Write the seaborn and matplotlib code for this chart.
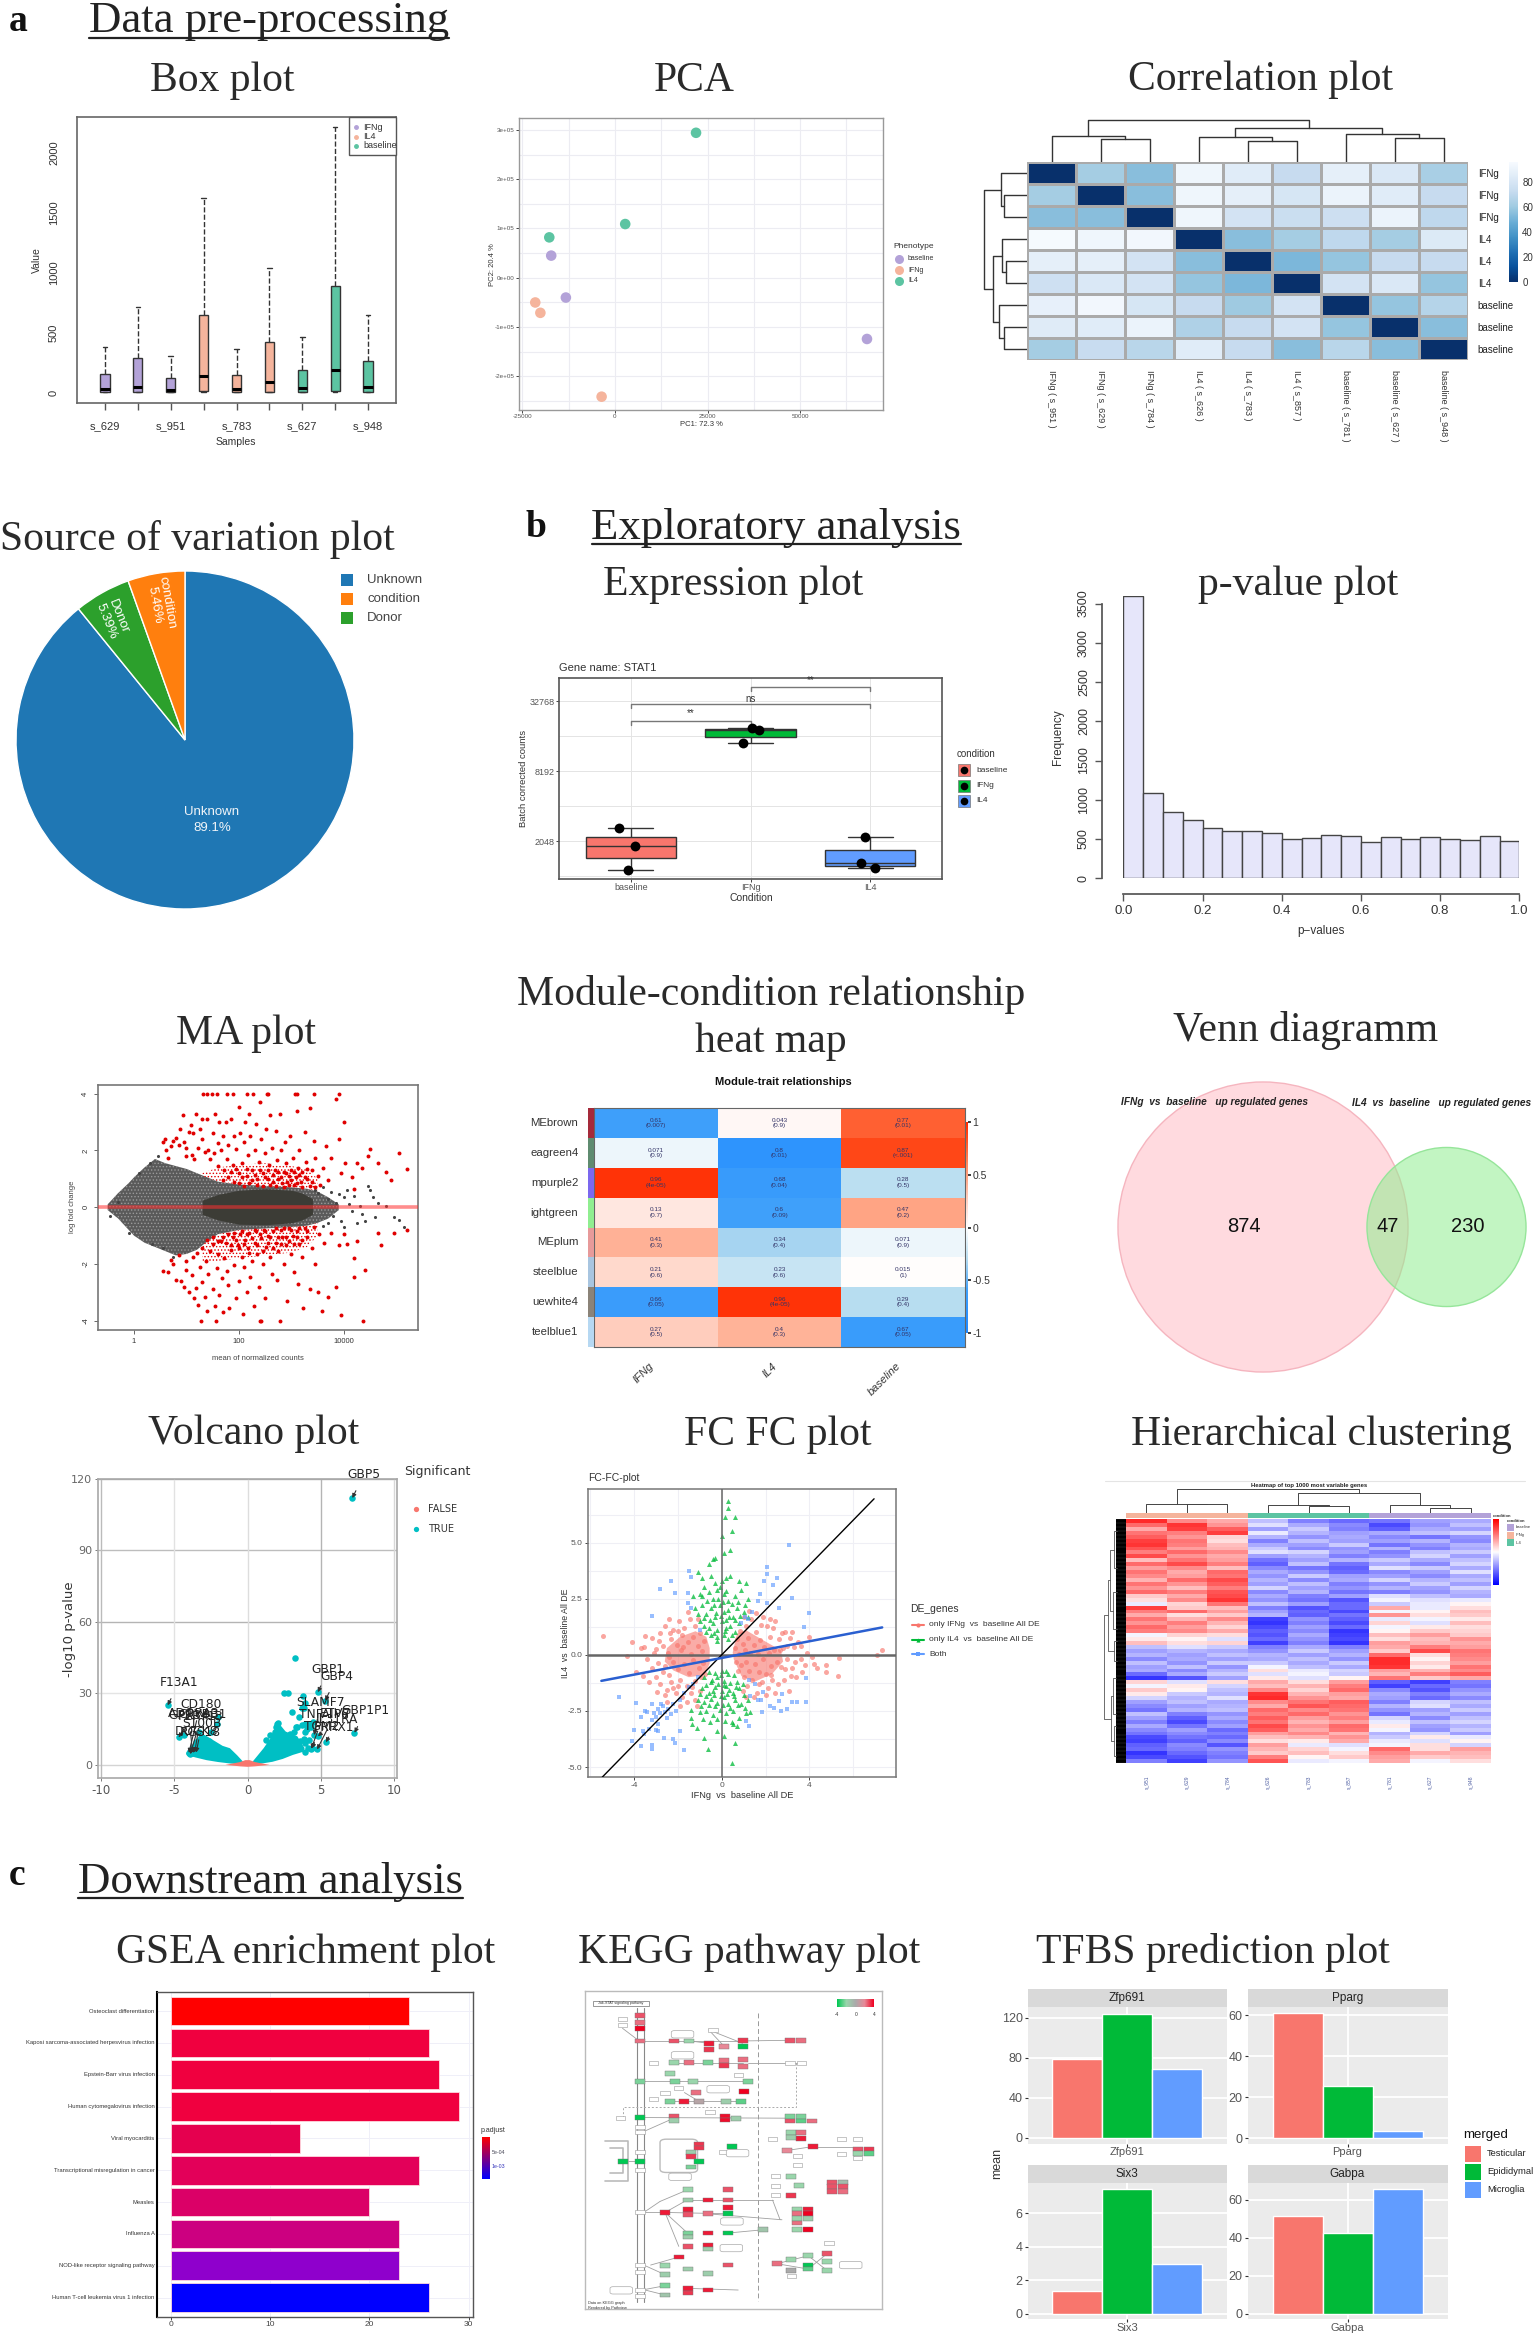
import numpy as np
import pandas as pd
import seaborn as sns
import matplotlib
matplotlib.use('Agg')
import matplotlib.pyplot as plt
from matplotlib import font_manager
from matplotlib.colors import LinearSegmentedColormap, ListedColormap
from matplotlib.patches import Circle, Rectangle, FancyBboxPatch

W, H = 1536, 2334

# ---------- panel titles ----------
section_labels = ['a', 'b', 'c']
section_label_x = [18, 536, 17]
section_label_y = [31, 537, 1885]
underlined = ['Data pre-processing', 'Exploratory analysis', 'Downstream analysis']
underlined_x = [269, 776, 270]
underlined_y = [32, 539, 1893]
underlined_l = [89, 592, 78]
underlined_r = [449, 961, 463]
underlined_line = [38, 544, 1898]
plot_titles = ['Box plot', 'PCA', 'Correlation plot', 'Source of variation plot', 'Expression plot',
               'p-value plot', 'MA plot', 'Module-condition relationship', 'heat map', 'Venn diagramm',
               'Volcano plot', 'FC FC plot', 'Hierarchical clustering', 'GSEA enrichment plot',
               'KEGG pathway plot', 'TFBS prediction plot']
plot_title_x = [222, 694, 1260, 197, 733, 1298, 246, 771, 771, 1306, 254, 778, 1321, 306, 749, 1213]
plot_title_y = [91, 91, 90, 550, 595, 595, 1044, 1005, 1052, 1041, 1444, 1445, 1445, 1963, 1963, 1963]

# ---------- box plot ----------
box_samples = ['s_629', 's_784', 's_951', 's_626', 's_783', 's_857', 's_627', 's_781', 's_948']
box_groups = ['IFNg'] * 3 + ['IL4'] * 3 + ['baseline'] * 3
box_low = [2, 3, 2, 5, 2, 4, 2, 5, 3]
box_q1 = [5, 6, 5, 10, 5, 8, 5, 12, 6]
box_median = [28, 50, 22, 135, 28, 85, 35, 185, 50]
box_q3 = [155, 290, 125, 650, 150, 420, 185, 890, 260]
box_high = [380, 715, 305, 1620, 365, 1040, 465, 2210, 645]
box_colors = {'IFNg': '#B3A2D8', 'IL4': '#F5B49C', 'baseline': '#5CC4A2'}

# ---------- PCA ----------
pca_pc1 = [21900, 2760, -17760, -17240, -13280, 68100, -21550, -20170, -3620]
pca_pc2 = [2.94e5, 1.09e5, 0.82e5, 0.45e5, -0.40e5, -1.24e5, -0.50e5, -0.71e5, -2.41e5]
pca_group = ['IL4'] * 3 + ['baseline'] * 3 + ['IFNg'] * 3

# ---------- correlation ----------
corr_rows = ['IFNg', 'IFNg', 'IFNg', 'IL4', 'IL4', 'IL4', 'baseline', 'baseline', 'baseline']
corr_cols = ['IFNg ( s_951 )', 'IFNg ( s_629 )', 'IFNg ( s_784 )', 'IL4 ( s_626 )', 'IL4 ( s_783 )',
             'IL4 ( s_857 )', 'baseline ( s_781 )', 'baseline ( s_627 )', 'baseline ( s_948 )']
corr_values = [[0, 62, 55, 92, 85, 72, 87, 82, 63],
               [62, 0, 55, 92, 87, 80, 90, 85, 72],
               [55, 55, 0, 92, 78, 74, 75, 90, 70],
               [95, 92, 93, 0, 55, 62, 70, 62, 83],
               [87, 87, 78, 55, 0, 52, 58, 72, 72],
               [76, 82, 78, 58, 52, 0, 78, 82, 58],
               [88, 93, 80, 72, 60, 78, 0, 58, 67],
               [84, 85, 90, 65, 72, 78, 58, 0, 55],
               [62, 73, 68, 85, 72, 55, 68, 55, 0]]
corr_top_tree = [(1.5, 2.5, 0, 0, 22.3), (0.5, 2.0, 0, 22.3, 26), (4.5, 5.5, 0, 0, 21), (3.5, 5.0, 0, 21, 24.7),
                 (7.5, 8.5, 0, 0, 23.3), (6.5, 8.0, 0, 23.3, 27.7), (4.25, 7.25, 24.7, 27.7, 33.3),
                 (1.25, 5.75, 26, 33.3, 41.7)]
corr_left_tree = [(1.5, 2.5, 0, 0, 22.8), (0.5, 2, 0, 22.8, 26.4), (4.5, 5.5, 0, 0, 21.3), (3.5, 5, 0, 21.3, 24.6),
                  (7.5, 8.5, 0, 0, 23.5), (6.5, 8, 0, 23.5, 28.3), (4.25, 7.25, 24.6, 28.3, 34.5),
                  (1.25, 5.75, 26.4, 34.5, 43)]

# ---------- source of variation ----------
pie_labels = ['Unknown', 'Donor', 'condition']
pie_values = [89.1, 5.39, 5.46]
pie_colors = ['#1f77b4', '#2ca02c', '#ff7f0e']

# ---------- expression ----------
expr_conditions = ['baseline', 'IFNg', 'IL4']
expr_baseline = [11.37, 10.86, 10.18]
expr_ifng = [14.24, 14.18, 13.81]
expr_il4 = [11.12, 10.37, 10.24]
expr_jitter = [-0.096, 0.032, -0.021, 0.011, 0.075, -0.064, -0.043, -0.075, 0.037]
gg_colors = ['#F8766D', '#00BA38', '#619CFF']

# ---------- p-values ----------
pval_counts = [3598, 1092, 845, 739, 646, 607, 599, 573, 505, 518, 552, 544, 463, 522, 497, 522, 505, 484, 535, 480]
pval_mids = [0.025, 0.075, 0.125, 0.175, 0.225, 0.275, 0.325, 0.375, 0.425, 0.475,
             0.525, 0.575, 0.625, 0.675, 0.725, 0.775, 0.825, 0.875, 0.925, 0.975]

# ---------- MA plot (x is log10 of the mean count) ----------
ma_env_x = [-0.5, -0.3, -0.1, 0, 0.2, 0.4, 0.6, 0.8, 1.0, 1.2, 1.4, 1.6, 2.0, 2.5, 3.0, 3.3, 3.5, 3.7, 3.9]
ma_env_up = [0.1, 0.5, 0.85, 1.05, 1.4, 1.7, 1.55, 1.45, 1.35, 1.2, 1.05, 0.9, 0.8, 0.75, 0.7, 0.65, 0.55, 0.35, 0.1]
ma_env_down = [-0.1, -0.4, -0.8, -1.0, -1.25, -1.4, -1.55, -1.7, -1.65, -1.5, -1.2, -0.95, -0.8, -0.75, -0.7, -0.65, -0.55, -0.4, -0.1]
ma_core_x = [1.3, 1.6, 2.0, 2.5, 3.0, 3.2, 3.4]
ma_core_up = [0.25, 0.45, 0.6, 0.65, 0.6, 0.5, 0.3]
ma_core_down = [-0.25, -0.45, -0.6, -0.62, -0.55, -0.45, -0.25]
ma_band_x = [1.3, 1.6, 2.0, 2.5, 3.0, 3.3, 3.5]
ma_band_up_in = [1.1, 0.9, 0.8, 0.75, 0.7, 0.65, 0.55]
ma_band_up_out = [1.2, 1.4, 1.5, 1.55, 1.45, 1.35, 1.0]
ma_band_down_in = [-1.3, -0.95, -0.8, -0.75, -0.7, -0.65, -0.55]
ma_band_down_out = [-1.9, -1.9, -1.8, -1.7, -1.6, -1.4, -1.0]
ma_gray_pts = [(3.5, .5), (3.6, .7), (3.7, .3), (3.75, .55), (3.8, -.3), (3.85, .15), (3.9, .45), (3.95, -.5), (4.0, .35),
               (4.05, .6), (4.1, .1), (4.15, -.15), (4.2, .4), (4.3, .05), (4.35, -.25), (4.4, -.5), (4.5, .6), (4.55, .35),
               (4.65, .15), (4.6, -.35), (4.8, .05), (4.95, -.35), (5.05, -.45), (5.15, -.7), (5.45, -.35), (4.45, .75),
               (3.6, -.65), (3.7, -.55), (3.45, .62), (4.0, -.7), (4.25, -.55), (0.1, 1.22), (0.3, 1.55), (0.45, 1.8),
               (0.35, -1.3), (0.55, -1.45), (0.75, -1.75), (-0.45, -.3), (-0.3, .2), (-0.1, -.9)]
ma_red_up = [(0.55, 2.3), (0.6, 2.4), (0.62, 2.0), (0.65, 1.75), (0.7, 2.15), (0.75, 2.35), (0.8, 2.45), (0.85, 2.2), (0.88, 2.75),
             (0.93, 3.25), (0.95, 2.3), (1.0, 1.8), (1.0, 2.1), (1.05, 2.65), (1.08, 2.9), (1.1, 1.85), (1.12, 2.6), (1.15, 1.7),
             (1.18, 3.3), (1.22, 2.1), (1.25, 2.75), (1.3, 2.4), (1.3, 3.1), (1.35, 1.95), (1.4, 3.1), (1.42, 2.0), (1.45, 1.7),
             (1.5, 2.6), (1.52, 1.9), (1.55, 3.3), (1.6, 2.25), (1.6, 1.45), (1.62, 3.0), (1.66, 2.0), (1.7, 2.5), (1.72, 1.3),
             (1.75, 3.0), (1.78, 1.7), (1.8, 2.2), (1.85, 3.1), (1.88, 1.5), (1.9, 2.5), (1.95, 2.05), (2.0, 1.2), (2.0, 3.55),
             (2.02, 2.6), (2.05, 1.55), (2.1, 2.3), (2.12, 3.0), (2.15, 1.1), (2.18, 1.85), (2.2, 3.3), (2.22, 2.5), (2.25, 1.3),
             (2.3, 2.0), (2.32, 2.95), (2.35, 1.0), (2.38, 1.6), (2.4, 3.7), (2.42, 2.4), (2.45, 1.2), (2.5, 1.9), (2.52, 2.75),
             (2.55, 1.0), (2.58, 1.5), (2.6, 3.25), (2.62, 2.1), (2.65, 0.9), (2.68, 1.3), (2.7, 2.7), (2.72, 1.65), (2.75, 1.0),
             (2.78, 3.3), (2.8, 2.0), (2.82, 0.85), (2.85, 1.25), (2.88, 2.3), (2.9, 1.55), (2.92, 0.9), (2.95, 1.1), (2.98, 2.5),
             (3.0, 1.3), (3.02, 1.75), (3.05, 0.8), (3.08, 1.05), (3.1, 3.4), (3.12, 1.4), (3.15, 2.0), (3.18, 0.9), (3.2, 1.25),
             (3.25, 2.65), (3.28, 1.6), (3.3, 1.0), (3.35, 3.5), (3.35, 0.75), (3.4, 1.3), (3.42, 2.35), (3.45, 1.75), (3.5, 1.1),
             (3.55, 0.8), (3.6, 1.4), (3.65, 2.15), (3.7, 0.95), (3.75, 1.75), (3.85, 3.8), (3.9, 2.4), (4.0, 3.0), (4.02, 1.55),
             (3.95, 1.2), (4.15, 1.05), (4.2, 0.65), (4.25, 1.55), (4.35, 1.4), (4.45, 1.8), (4.5, 2.05), (4.65, 1.55), (4.8, 1.25),
             (4.9, 0.95), (5.05, 1.9), (5.2, 1.35), (1.7, 0.95), (1.8, 1.05), (1.85, 1.25), (1.9, 0.9), (1.95, 1.35), (2.0, 0.85),
             (2.05, 1.05), (2.1, 0.75), (2.15, 1.35), (2.2, 0.85), (2.25, 0.95), (2.3, 1.15), (2.35, 0.8), (2.4, 1.3), (2.45, 0.75),
             (2.5, 1.05), (2.55, 1.3), (2.6, 0.8), (2.65, 1.15), (2.7, 0.75), (2.75, 1.25), (2.8, 1.05), (2.85, 0.72), (2.9, 1.2),
             (2.95, 0.8), (3.0, 0.95), (3.05, 1.25), (3.1, 0.85), (3.15, 1.15), (3.2, 0.72), (3.25, 1.05), (3.3, 1.35), (3.4, 0.9),
             (3.45, 0.7), (1.31, 4), (1.40, 4), (1.49, 4), (1.58, 4), (1.78, 4), (1.88, 4), (2.15, 4), (2.26, 4), (2.54, 4), (2.56, 4),
             (3.07, 4), (3.10, 4), (3.43, 4), (3.91, 4)]
ma_red_down = [(0.55, -2.25), (0.65, -2.3), (0.7, -1.85), (0.75, -2.0), (0.8, -2.55), (0.85, -1.7), (0.9, -2.6), (0.95, -2.8), (1.0, -2.2),
               (1.0, -1.9), (1.05, -3.0), (1.1, -2.4), (1.12, -1.75), (1.15, -3.2), (1.18, -2.85), (1.2, -1.6), (1.22, -3.45), (1.25, -2.1),
               (1.3, -2.65), (1.3, -1.45), (1.35, -3.15), (1.38, -1.9), (1.4, -3.65), (1.42, -2.35), (1.45, -1.55), (1.5, -2.9), (1.5, -1.3),
               (1.55, -3.5), (1.58, -2.15), (1.6, -1.65), (1.62, -3.1), (1.65, -1.2), (1.68, -2.5), (1.7, -3.7), (1.72, -1.8), (1.75, -1.25),
               (1.78, -2.25), (1.8, -2.75), (1.82, -3.55), (1.85, -1.5), (1.88, -1.05), (1.9, -2.05), (1.95, -3.2), (1.98, -1.35), (2.0, -2.6),
               (2.02, -0.95), (2.05, -1.75), (2.08, -3.75), (2.1, -2.1), (2.12, -1.15), (2.15, -3.0), (2.18, -1.45), (2.2, -0.9), (2.22, -2.45),
               (2.25, -1.9), (2.28, -3.5), (2.3, -1.25), (2.32, -0.85), (2.35, -1.65), (2.38, -2.8), (2.42, -1.1), (2.45, -2.0), (2.48, -0.8),
               (2.5, -3.2), (2.52, -1.4), (2.55, -1.0), (2.6, -1.75), (2.62, -2.35), (2.65, -0.85), (2.7, -1.25), (2.72, -2.55), (2.75, -1.55),
               (2.8, -0.8), (2.82, -1.05), (2.85, -2.0), (2.9, -1.35), (2.92, -3.3), (2.95, -0.75), (3.0, -1.65), (3.02, -1.0), (3.05, -2.3),
               (3.1, -0.85), (3.12, -2.7), (3.15, -1.3), (3.2, -1.75), (3.22, -3.55), (3.25, -0.75), (3.3, -1.05), (3.35, -2.9), (3.4, -1.45),
               (3.42, -0.7), (3.45, -2.0), (3.5, -3.0), (3.52, -0.95), (3.58, -3.65), (3.62, -1.25), (3.7, -3.15), (3.75, -0.9), (3.85, -2.8),
               (3.9, -1.35), (3.95, -3.8), (4.0, -0.95), (4.05, -1.3), (4.2, -1.8), (4.25, -1.2), (4.4, -2.2), (4.2, -2.45), (4.65, -0.9),
               (4.7, -1.35), (4.95, -0.9), (5.2, -0.8), (1.4, -1.15), (1.5, -1.05), (1.6, -1.2), (1.7, -1.05), (1.8, -0.95), (1.85, -1.35),
               (1.9, -0.9), (1.95, -1.15), (2.0, -1.45), (2.05, -0.85), (2.1, -1.3), (2.15, -0.95), (2.2, -1.6), (2.25, -1.1), (2.3, -0.8),
               (2.35, -1.35), (2.4, -0.95), (2.45, -1.55), (2.5, -0.85), (2.55, -1.25), (2.6, -1.05), (2.65, -1.45), (2.7, -0.75), (2.75, -1.05),
               (2.8, -1.3), (2.85, -0.72), (2.9, -1.05), (2.95, -1.2), (3.0, -0.8), (3.05, -1.3), (3.1, -1.05), (3.15, -0.75), (3.2, -1.15),
               (3.3, -0.85), (1.28, -4), (1.57, -4), (2.40, -4), (2.42, -4), (2.79, -4), (4.36, -4)]

# ---------- module heat map ----------
module_rows = ['MEbrown', 'eagreen4', 'mpurple2', 'ightgreen', 'MEplum', 'steelblue', 'uewhite4', 'teelblue1']
module_cols = ['IFNg', 'IL4', 'baseline']
module_values = [[-0.61, 0.043, 0.77], [-0.071, -0.8, 0.87], [0.96, -0.68, -0.28], [0.13, -0.6, 0.47],
                 [0.41, -0.34, -0.071], [0.21, -0.23, 0.015], [-0.66, 0.96, -0.29], [0.27, 0.4, -0.67]]
module_pvals = [['(0.007)', '(0.9)', '(0.01)'], ['(0.9)', '(0.01)', '(<.001)'], ['(4e-05)', '(0.04)', '(0.5)'],
                ['(0.7)', '(0.09)', '(0.2)'], ['(0.3)', '(0.4)', '(0.9)'], ['(0.6)', '(0.6)', '(1)'],
                ['(0.05)', '(4e-05)', '(0.4)'], ['(0.5)', '(0.3)', '(0.05)']]
module_side = ['#A52A3A', '#5F8B70', '#7B68EE', '#90EE90', '#E79A9A', '#A8C5E0', '#8B8378', '#B6D8F2']

# ---------- venn ----------
venn_left_only, venn_both, venn_right_only = 874, 47, 230

# ---------- volcano ----------
volc_right_x = [0.3, 0.7, 1.1, 1.55, 1.9, 2.2, 2.6, 3.0, 3.4, 3.7, 3.9, 3.8, 3.1, 2.4, 1.7, 1.0, 0.5]
volc_right_y = [1, 4, 7, 11, 15, 17, 14, 13, 12, 9, 7, 5.5, 4.2, 2.5, 1.3, 0.6, 0.3]
volc_left_x = [-0.25, -0.7, -1.2, -1.7, -2.1, -2.5, -2.9, -3.2, -3.7, -4.1, -4.2, -3.6, -2.8, -2, -1.2, -0.5]
volc_left_y = [1, 4, 7, 8, 9.5, 11, 12.5, 13, 9, 6, 4.5, 3.2, 2, 1.2, 0.6, 0.3]
volc_mid_x = [-1.5, -0.5, -0.15, 0.15, 0.5, 1.5, 0.5, 0, -0.5]
volc_mid_y = [0, 1.2, 2, 2, 1.2, 0, -0.6, -0.8, -0.6]
volc_pts = [(1.55, 12.5), (1.6, 9), (1.25, 10.5), (1.95, 16), (2.1, 17.5), (2, 17), (1.9, 14), (2.4, 13), (2.1, 15), (2.9, 13), (3.2, 14),
            (3.4, 16), (3.7, 16.8), (3.9, 17), (4.2, 17), (4.05, 15), (3.5, 20), (3.05, 22), (3.3, 16), (3.6, 10), (3.9, 14), (3.85, 11),
            (3.95, 9), (4.1, 7), (4.4, 7), (4.2, 10.5), (4.55, 12.5), (4.3, 16), (4.5, 18), (3.8, 29), (2.5, 30), (2.75, 30.2), (3.25, 45),
            (3.75, 24), (3.9, 26), (3.85, 24), (4.8, 30.5), (5.3, 27), (7.15, 112), (7.3, 13.5), (5.35, 9.5), (4.8, 12), (4.75, 6.5),
            (4.35, 6.8), (3.95, 5.5), (-5.45, 25), (-4.7, 11.5), (-4.35, 12.5), (-4, 5), (-3.9, 4.5), (-3.75, 5.2), (-3.6, 5.3), (-3.4, 7.5),
            (-3.2, 8.5), (-3.5, 9.5), (-3.1, 11), (-2.6, 10), (-2.5, 14), (-2.1, 17), (-2.0, 20), (-3.3, 14)]
volc_names = ['GBP5', 'F13A1', 'CD180', 'ADORA3', 'CRYBB1', 'GPR34', 'P2RY13', 'S100B', 'DOCK8', 'RGS18',
              'GBP1', 'GBP4', 'SLAMF7', 'TNFAIP6', 'ETV7', 'IL31RA', 'TGM2', 'PRRX1', 'GBP1P1']
volc_name_x = [7.93, -4.67, -3.2, -3.7, -3.1, -4.0, -3.2, -3.1, -3.45, -3.2, 5.5, 6.1, 5.0, 5.2, 6.0, 6.1, 5.08, 5.9, 8.06]
volc_name_y = [121.8, 34.5, 25.5, 21.7, 21.3, 20.9, 20.5, 17.5, 14, 13.7, 39.9, 37.1, 26.3, 21, 21.7, 19.2, 16.1, 15.8, 22.8]
volc_gene_x = [7.15, -5.45, -4, -4.7, -3.9, -3.75, -3.6, -3.5, -3.9, -3.7, 4.8, 5.3, 4.55, 4.35, 4.75, 4.8, 4.4, 5.35, 7.3]
volc_gene_y = [112, 25, 5, 11.5, 4.5, 5.2, 5.3, 5.2, 5, 5, 30.5, 27, 12.5, 6.8, 6.5, 12, 7, 9.5, 13.5]

# ---------- FC-FC ----------
fc_red = [(-5.4, .85), (-4.1, .55), (-3.7, .3), (-3.5, .85), (-3.4, -.2), (-3.2, .75), (-3.2, -.6), (-3.0, .25), (-3.0, -1.0), (-2.9, -.35),
          (-2.8, .95), (-2.8, -1.3), (-2.7, .4), (-2.6, -.5), (-2.6, 1.3), (-2.5, -1.55), (-2.45, .1), (-2.4, -.9), (-2.3, .7), (-2.3, -1.2),
          (-2.2, 1.1), (-2.2, -.3), (-2.1, -1.7), (-2.05, .45), (-2.0, -.65), (-1.95, 1.5), (-1.9, -1.1), (-1.85, .2), (-1.8, .9), (-1.8, -1.9),
          (-1.7, -.4), (-1.7, 1.2), (-1.6, -1.4), (-1.55, .55), (-1.5, -.8), (-1.45, 1.6), (-1.4, 0.05), (-1.4, -1.7), (-1.3, .8), (-1.3, -.25),
          (-1.2, 1.3), (-1.2, -1.15), (-1.1, .4), (-1.05, -.6), (-1, .95), (-.95, -1.0), (-.9, .15), (-.85, -.35), (-.8, .6), (-.75, -.85),
          (.6, .3), (.65, -.3), (.7, .7), (.75, -.7), (.8, .05), (.85, 1.05), (.9, -.45), (.95, .5), (1.0, -1.0), (1.05, .2), (1.1, 1.3), (1.1, -.3),
          (1.15, -1.4), (1.2, .75), (1.25, -.7), (1.3, .1), (1.35, 1.6), (1.4, -1.1), (1.45, .45), (1.5, -.4), (1.55, 1.0), (1.6, -1.7), (1.65, .05),
          (1.7, -.75), (1.75, .65), (1.8, 1.35), (1.85, -1.2), (1.9, -.2), (1.95, .35), (2.0, -.85), (2.05, 1.3), (2.1, -1.5), (2.15, .1), (2.2, .8),
          (2.25, -.5), (2.3, -1.1), (2.35, 1.2), (2.4, .2), (2.5, -.3), (2.55, -1.3), (2.6, .7), (2.7, -.55), (2.8, .3), (2.85, -1.1), (2.9, 1.0),
          (3.0, -.2), (3.05, -1.6), (3.1, .75), (3.2, -.6), (3.3, .35), (3.4, -1.0), (3.5, .55), (3.6, -.2), (3.8, -.45), (4.0, .8), (4.2, -.4),
          (4.35, -.6), (4.75, -.45), (4.75, -.75), (5.35, -.15), (5.3, -.95), (7.3, .2), (7.1, 0.0),
          (-4.3, -.05), (-3.9, -.75), (-3.6, -.95), (-3.3, -1.2), (-3.1, .1), (-2.7, -.75), (-2.6, -1.8), (-2.4, -.1), (-2.4, 1.6), (-2.2, -1.5),
          (-2.0, 1.05), (-2.0, -1.4), (-1.9, -2.3), (-1.75, .35), (-1.6, -2.1), (-1.55, 1.9), (-1.35, -1.45), (-1.2, -2.0), (-1.1, 1.6), (-1.0, -1.6),
          (-2.95, -1.65), (-3.55, .35), (-2.85, .6), (-1.15, -2.3), (-2.5, -2.1), (-2.35, .95), (1.0, 1.7), (1.25, 1.95), (1.55, 1.85), (1.9, 1.7),
          (2.2, 1.6), (2.45, 1.5), (1.45, -1.9), (1.7, -1.3), (2.0, -1.8), (2.25, -.9), (2.45, -1.7), (2.65, .2), (2.75, .95), (3.0, .4), (3.15, -.95),
          (3.2, 1.0), (3.35, -.3), (3.6, .4), (3.65, -.75), (3.9, .1), (4.1, -.1), (1.1, -1.9), (.95, -1.6), (2.9, -.65)]
fc_red_left_blob = [(-.55, .3), (-.7, .8), (-1.2, 1.05), (-1.9, .8), (-2.5, .3), (-2.6, -.3), (-2.2, -.7), (-1.5, -1.0), (-.8, -.9), (-.55, -.4)]
fc_red_right_blob = [(.5, .1), (.7, .95), (1.1, 1.1), (1.8, .7), (2.7, .2), (2.8, -.3), (2.3, -.85), (1.5, -1.2), (.9, -.95), (.55, -.2)]
fc_green = [(.3, 6.85), (.3, 6.55), (.15, 6.15), (.6, 6.15), (.45, 5.5), (0, 5.3), (.1, 4.55), (.4, 4.65), (-.4, 4.25), (-.6, 4.05), (-.3, 4.3),
            (-1.1, 3.7), (-.9, 3.4), (-.5, 3.5), (-.3, 3.2), (0, 3.3), (.2, 3.4), (.4, 3.5), (.8, 3.3), (1.1, 3.2), (-1.3, 2.6), (-1.0, 2.7), (-.8, 3.0),
            (-.6, 2.8), (-.4, 2.5), (-.2, 2.9), (.1, 2.7), (.3, 2.4), (.6, 2.6), (.9, 2.9), (1.2, 2.5), (-1.2, 2.1), (-.9, 2.2), (-.7, 1.8), (-.5, 2.1),
            (-.3, 1.7), (-.1, 2.2), (.1, 1.9), (.3, 2.0), (.5, 1.7), (.7, 2.1), (1.0, 1.9), (1.2, 1.7), (-1.0, 1.5), (-.8, 1.3), (-.6, 1.2), (-.4, 1.4),
            (-.2, 1.1), (0, 1.5), (.2, 1.2), (.4, 1.3), (.6, 1.0), (.8, 1.4), (-.5, .9), (-.2, .8), (.1, .9), (.3, .7), (-.1, 3.0), (-.2, .6),
            (-.6, -.75), (-.3, -.8), (0, -.7), (.3, -.85), (.55, -.9), (-.8, -1.0), (-.5, -1.2), (-.2, -1.0), (.1, -1.15), (.4, -1.25), (.7, -1.2),
            (-.9, -1.5), (-.6, -1.7), (-.3, -1.45), (0, -1.6), (.2, -1.4), (.5, -1.7), (.8, -1.5), (1.0, -1.8), (-1.1, -2.0), (-.8, -2.1), (-.5, -1.95),
            (-.2, -2.15), (.1, -1.9), (.3, -2.2), (.6, -2.0), (.9, -2.2), (1.2, -2.0), (-1.4, -2.45), (-1.0, -2.55), (-.7, -2.5), (-.4, -2.7), (-.1, -2.45),
            (.2, -2.6), (.5, -2.5), (.8, -2.8), (1.1, -2.6), (1.3, -2.55), (-1.4, -2.8), (-.8, -3.7), (-.64, -4.2), (.1, -3.6), (.6, -3.93), (.45, -4.82),
            (-.2, -3.4), (.45, -3.0), (.5, -3.1), (-1.35, -3.1), (-1.15, -3.25),
            (-.9, 2.6), (-.65, 2.4), (-.35, 2.2), (-.15, 2.5), (.05, 2.35), (.2, 2.85), (.45, 2.25), (.75, 2.35), (1.05, 2.2), (-1.1, 1.8), (-.8, 1.65),
            (-.55, 1.55), (-.25, 1.85), (-.05, 1.75), (.2, 1.55), (.35, 1.7), (.6, 1.55), (.85, 1.75), (-.7, 1.0), (-.35, .95), (.15, 1.05), (.45, .9),
            (-.7, -1.35), (-.4, -1.6), (-.15, -1.3), (.1, -1.35), (.35, -1.55), (.65, -1.45), (.95, -1.3), (-1.0, -1.75), (-.7, -1.85), (-.35, -1.8),
            (-.05, -1.85), (.25, -1.75), (.55, -1.85), (.75, -2.25), (1.05, -2.35), (-.95, -2.3), (-.6, -2.25), (-.3, -2.3), (.05, -2.25), (.4, -2.35),
            (-.85, -2.85), (-.55, -3.0), (-.2, -2.85), (.15, -2.95), (.7, -3.15), (-.45, -1.1), (-.05, -.9), (.2, -.7)]
fc_blue = [(3.07, 4.9), (2.05, 3.9), (2.05, 3.6), (2.5, 3.4), (2.35, 3.1), (1.95, 3.3), (1.75, 2.7), (1.65, 2.4), (2.05, 2.3), (2.6, 2.1), (3.2, 2.55),
           (4.0, 1.85), (3.75, 1.25), (1.4, 1.9), (1.2, 1.6), (.9, 1.4), (1.05, 1.7), (-1.5, 3.75), (-1.4, 3.45), (-2.3, 3.3), (-2.8, 2.95), (-2.15, 2.75),
           (-1.55, 2.75), (-1.55, 2.3), (-1.4, 2.1), (-3.2, 1.75), (-1.0, 1.1), (-4.7, -1.9), (-3.9, -2.15), (-3.5, -2.5), (-3.4, -2.55), (-3.2, -2.2),
           (-3.1, -2.6), (-2.9, -2.4), (-3.7, -2.75), (-3.2, -2.9), (-3.0, -2.75), (-2.8, -2.6), (-2.7, -2.3), (-2.6, -2.55), (-2.5, -2.8), (-2.45, -2.4),
           (-2.3, -2.65), (-2.2, -2.2), (-2.1, -2.5), (-2.75, -2.2), (-2.9, -3.1), (-3.3, -3.3), (-3.6, -3.4), (-3.0, -3.35), (-2.9, -3.4), (-4.0, -3.35),
           (-3.55, -3.55), (-2.65, -3.7), (-2.2, -3.75), (-1.9, -3.4), (-4.1, -3.85), (-3.7, -4.05), (-3.2, -4.0), (-3.2, -4.2), (-2.15, -3.95), (-1.7, -4.25),
           (-1.9, -2.0), (-1.7, -1.7), (-1.5, -1.45), (-1.3, -1.3), (-1.1, -1.0), (1.1, -2.95), (1.25, -3.15), (1.25, -1.1), (1.5, -1.3), (1.65, -2.0),
           (1.8, -2.0), (1.9, -1.65), (1.85, -2.55), (2.2, -2.3), (2.4, -2.35), (2.6, -2.05), (2.7, -2.5), (2.75, -1.75), (3.0, -2.4), (3.2, -2.1),
           (3.45, -2.1), (3.85, -2.1), (3.85, -1.05), (1.3, -1.85)]
fc_fit_x = [-5.49, 7.32]
fc_fit_y = [-1.16, 1.22]
fc_diag = [-5.45, 6.95]

# ---------- clustered heat map (z-score x 10) ----------
hier_matrix = [
    [20, 11, 8, -6, -12, -14, -13, -9, -8], [14, 19, 10, -3, -8, -11, -17, -10, -6], [8, 18, 15, -9, -5, -12, -15, -8, -9],
    [13, 12, 18, -2, -7, -9, -8, -6, -4], [15, 10, 4, -7, -10, -8, -11, -13, -10], [18, 13, 3, -12, -6, -9, -9, -7, -11],
    [19, 12, 6, -8, -9, -5, -13, -10, -7], [16, 9, 7, -5, -11, -10, -7, -12, -8], [12, 14, 11, -3, -4, -9, -12, -6, -5],
    [17, 10, 8, -9, -7, -12, -10, -4, -9], [6, 13, 9, -13, -9, -7, -5, -8, -6], [14, 17, 12, -15, -6, -13, -8, -11, -4],
    [9, 11, 6, -11, -13, -15, -3, -5, -8], [13, 8, 14, -8, -10, -14, -11, -9, -3], [11, 9, 13, -10, -5, -9, -9, -11, -8],
    [7, 14, 17, -7, -11, -8, -4, -7, -6], [13, 10, 15, -9, -6, -12, -10, -5, -9], [10, 6, 12, -4, -9, -10, -7, -9, -4],
    [14, 12, 16, -11, -7, -13, -12, -10, -7], [5, 8, 17, -8, -12, -9, -3, -6, -8], [3, 11, 19, -10, -13, -16, -1, -3, -2],
    [-2, 4, 13, -6, -9, -14, -5, -2, 1], [18, 5, 6, -12, -16, -14, 8, -2, 3], [12, 14, 9, -9, -14, -17, -1, 1, 6],
    [8, 3, 5, -7, -15, -13, 10, 3, 5], [13, 7, 11, -18, -10, -15, -2, -1, 2], [10, 12, 7, -19, -12, -17, 4, -3, 6],
    [14, 9, 4, -17, -9, -14, -1, 2, 3], [12, 11, 8, -15, -11, -19, 1, 5, 4], [-1, 4, 3, -16, -8, -18, 6, 9, 5],
    [2, 1, -3, -14, -10, -17, 3, 6, 10], [6, 3, 4, -18, -12, -19, 9, 7, 8], [-6, -3, -5, -12, -8, -12, 8, 12, 9],
    [-9, -7, -8, -10, -5, -9, 5, 17, 13], [-7, -9, -6, -7, -9, -7, 14, 3, 12], [-11, -8, -9, -8, -6, -10, 20, 1, 11],
    [-6, -10, -5, -5, -8, -5, 20, 4, 9], [-9, -6, -10, -1, -6, -8, 19, 2, 13], [-8, -11, -7, 3, -2, -4, 9, 7, 11],
    [-14, -8, -5, -3, -1, -5, 7, 12, 15], [-19, -16, -9, 2, -3, 1, 13, 5, 8], [4, -3, 3, 8, 3, 9, -15, -18, -12],
    [-1, 2, -4, 6, 7, 12, -18, -14, -13], [5, 1, -6, 11, 4, 14, -11, -16, -10], [2, -5, -7, 19, 7, 9, -8, -12, -8],
    [-4, -7, -3, 20, 10, 8, -9, -14, -11], [-9, -6, -8, 11, 13, 15, -12, -4, -6], [-11, -9, -7, 8, 16, 14, -7, -3, -8],
    [-13, -7, -6, 14, 11, 13, -10, -9, -5], [-6, -12, -10, 12, 14, 10, -13, -7, -9], [-9, -15, -8, 15, 9, 12, -4, -11, -6],
    [-12, -17, -11, 13, 7, 9, -2, -6, -4], [-8, -13, -9, 17, 10, 14, 2, -9, -7], [-11, -9, -14, 15, 8, 13, -1, -10, -5],
    [-13, -11, -12, 9, 11, 7, -7, -4, -9], [-17, -13, -14, 6, 7, 10, -5, 2, -2], [-18, -15, -11, 3, 2, 8, -2, -3, 1],
    [-15, -11, -16, 9, -2, -3, -1, 3, -4], [-14, -12, -10, 7, 4, -1, 14, 3, 9], [-19, -14, -12, 5, 6, 3, 11, 8, 7],
    [-17, -16, -13, 12, 1, 5, 9, 5, 6], [-12, -18, -10, 16, -2, -1, 8, -1, 3]]
hier_cols = ['s_951', 's_629', 's_784', 's_626', 's_783', 's_857', 's_781', 's_627', 's_948']
hier_col_group = [1, 1, 1, 2, 2, 2, 0, 0, 0]
hier_top_tree = [(1.5, 2.5, 0, 0, 8.7), (0.5, 2.0, 0, 8.7, 9.3), (4.5, 5.5, 0, 0, 6.7), (3.5, 5, 0, 6.7, 8), (7.5, 8.5, 0, 0, 5.3),
                 (6.5, 8, 0, 5.3, 8), (4.25, 7.25, 8, 8, 19.3), (1.25, 5.75, 9.3, 19.3, 24)]
hier_left_tree = [(0.05, 0.20, 3, 3, 8), (0.30, 0.45, 3, 3, 9), (0.125, 0.375, 8, 9, 13), (0.5, 0.58, 3, 3, 7), (0.25, 0.54, 13, 7, 16),
                  (0.65, 0.8, 5, 5, 9), (0.85, 0.97, 5, 5, 8), (0.725, 0.91, 9, 8, 12), (0.395, 0.82, 16, 12, 22)]

# ---------- GSEA ----------
gsea_terms = ['Osteoclast differentiation', 'Kaposi sarcoma-associated herpesvirus infection', 'Epstein-Barr virus infection',
              'Human cytomegalovirus infection', 'Viral myocarditis', 'Transcriptional misregulation in cancer', 'Measles',
              'Influenza A', 'NOD-like receptor signaling pathway', 'Human T-cell leukemia virus 1 infection']
gsea_counts = [24, 26, 27, 29, 13, 25, 20, 23, 23, 26]
gsea_colors = ['#FF0000', '#F0003F', '#F0003F', '#F0003F', '#E5004F', '#E30059', '#DB0067', '#CC0080', '#8F00CC', '#0000FF']

# ---------- KEGG (x, y on the pathway sheet, value -1..1) ----------
kegg_nodes = [(128, 347, .7), (128, 368, .6), (128, 385, 1), (128, 423, .6), (128, 544, -.6), (128, 653, -1), (128, 785, -1), (100, 785, -1),
              (182, 423, .7), (207, 423, -.5), (238, 430, .9), (238, 448, .8), (263, 440, .5), (292, 422, .8), (292, 440, -1), (368, 421, .7), (386, 421, .6),
              (182, 488, -.5), (207, 488, .6), (237, 488, -.6), (263, 482, .6), (263, 496, .8), (292, 479, .6), (292, 499, .6), (176, 520, -.5), (184, 544, -.6),
              (212, 544, -.5), (300, 544, -.6), (218, 577, .6), (295, 575, 1), (176, 604, -.6), (199, 604, .9), (222, 604, .1), (266, 604, -.4), (290, 604, -.7),
              (182, 648, .7), (182, 662, -.4), (264, 648, .95), (264, 660, .95), (281, 655, -.4), (368, 649, -.6), (386, 649, -.6), (368, 663, .7), (386, 663, -.7),
              (403, 663, .6), (370, 697, -.5), (386, 697, .6), (386, 715, .9), (370, 712, -.4), (405, 740, .9), (363, 752, .5), (477, 747, .7), (495, 747, .8),
              (477, 761, -.5), (495, 761, -.7), (222, 732, .8), (222, 745, .8), (275, 739, -1), (210, 758, -.4), (210, 770, .8), (222, 785, -1), (210, 802, -.6),
              (370, 830, -.5), (382, 858, -.5), (435, 848, .7), (452, 848, -.2), (435, 860, .7), (452, 860, .7), (435, 875, .7), (452, 875, .6), (369, 887, .8),
              (204, 870, -.5), (268, 870, .7), (204, 901, -.4), (236, 901, .9), (268, 901, .7), (168, 938, .9), (204, 930, .9), (204, 945, .7), (236, 942, .6),
              (268, 923, .9), (268, 942, -1), (379, 928, -.5), (396, 928, .9), (379, 942, .6), (396, 942, 1), (379, 956, -.5), (396, 956, -.4), (379, 970, .6),
              (379, 990, -.5), (396, 990, 1), (204, 1000, -.6), (236, 1000, .9), (268, 1000, -1), (204, 1012, -.4), (204, 1040, .7), (236, 1036, .9), (236, 1048, -.4),
              (325, 990, -.3), (190, 1072, .9), (168, 1098, -.5), (204, 1108, -.4), (236, 1122, -.4), (268, 1096, .7), (168, 1125, -.4), (168, 1158, -.6),
              (168, 1186, -.3), (204, 1166, .9), (204, 1180, .8), (236, 1171, .9), (369, 1079, -.5), (397, 1068, -.5), (427, 1062, .7), (397, 1096, -1),
              (397, 1108, -.7), (427, 1086, -.5), (347, 1092, .6), (427, 1112, -.5), (369, 1112, .0)]
kegg_white = [(100, 358), (100, 374), (245, 390), (150, 488), (285, 525), (168, 578), (190, 563), (150, 598), (97, 653), (128, 680), (128, 695), (240, 635),
              (128, 757), (128, 810), (262, 757), (128, 938), (128, 1096), (128, 1118), (128, 1170), (128, 1190), (340, 718), (380, 770), (380, 795), (345, 830),
              (345, 858), (345, 886), (430, 1030), (370, 1128), (368, 490), (386, 490), (476, 718), (476, 775), (450, 718), (450, 762)]
kegg_labels = [(196, 403), (196, 466), (253, 568), (284, 760), (192, 831), (274, 1045), (275, 965), (98, 1172), (465, 1096)]
kegg_links = [((128, 423), (292, 423)), ((292, 423), (368, 421)), ((128, 544), (300, 544)), ((128, 653), (368, 655)), ((182, 488), (292, 488)),
              ((204, 870), (160, 905)), ((160, 905), (134, 938)), ((134, 938), (168, 938)), ((168, 938), (204, 900)), ((168, 938), (204, 1000)),
              ((168, 938), (268, 942)), ((168, 938), (190, 1040)), ((204, 901), (340, 901)), ((340, 901), (352, 960)), ((236, 942), (355, 960)),
              ((268, 1000), (325, 990)), ((145, 1096), (190, 1072)), ((134, 1096), (168, 1125)), ((134, 1170), (168, 1158)), ((134, 1170), (168, 1186)),
              ((204, 1166), (285, 1171)), ((238, 430), (207, 423)), ((238, 390), (263, 440)), ((245, 395), (292, 430)), ((300, 488), (380, 488)),
              ((176, 604), (290, 604)), ((199, 578), (222, 604)), ((128, 785), (100, 785)), ((370, 750), (405, 740)), ((405, 740), (470, 740)),
              ((470, 740), (470, 770)), ((347, 1092), (397, 1068)), ((347, 1092), (397, 1108)), ((397, 1068), (427, 1112)), ((397, 1108), (427, 1062)),
              ((128, 700), (182, 655)), ((128, 425), (100, 385))]

# ---------- TFBS ----------
tf_names = ['Zfp691', 'Pparg', 'Six3', 'Gabpa']
tissues = ['Testicular', 'Epididymal', 'Microglia']
tf_means = {'Zfp691': [79, 124, 69], 'Pparg': [61, 25.3, 3.4], 'Six3': [1.33, 7.43, 2.98], 'Gabpa': [51.4, 42.3, 65.6]}
tf_ticks = {'Zfp691': [0, 40, 80, 120], 'Pparg': [0, 20, 40, 60], 'Six3': [0, 2, 4, 6], 'Gabpa': [0, 20, 40, 60]}
tf_limits = {'Zfp691': (-6, 131), 'Pparg': (-2.9, 64.1), 'Six3': (-0.335, 7.81), 'Gabpa': (-2.95, 68.9)}
tf_boxes = {'Zfp691': (1027.5, 2007, 1227, 2144), 'Pparg': (1247.5, 2007, 1447.5, 2144),
            'Six3': (1027.5, 2182.7, 1227, 2319.3), 'Gabpa': (1247.5, 2182.7, 1447.5, 2319.3)}

sns.set_theme(style='white')
plt.rcParams['font.family'] = ['Liberation Sans', 'DejaVu Sans']
plt.rcParams['axes.unicode_minus'] = False
plt.rcParams['hatch.linewidth'] = 0.6
installed = {f.name for f in font_manager.fontManager.ttflist}
narrow = 'Liberation Sans Narrow' if 'Liberation Sans Narrow' in installed else 'Liberation Sans'
fig = plt.figure(figsize=(W / 100, H / 100), dpi=100, facecolor='white')


def pax(x0, y0, x1, y1):
    return fig.add_axes([x0 / W, 1 - y1 / H, (x1 - x0) / W, (y1 - y0) / H])


def frame(ax, color='#666666', lw=1.2):
    for s in ax.spines.values():
        s.set_visible(True)
        s.set_color(color)
        s.set_linewidth(lw)


def dend(ax, merges, top=True, lw=1.0, color='#333333'):
    for a, b, ha, hb, h in merges:
        if top:
            ax.plot([a, a, b, b], [ha, h, h, hb], color=color, lw=lw)
        else:
            ax.plot([ha, h, h, hb], [a, a, b, b], color=color, lw=lw)
    ax.axis('off')


def fit_width(texts, reference, target_px):
    # scale a group of texts so that the reference text is target_px wide
    renderer = fig.canvas.get_renderer()
    width = reference.get_window_extent(renderer).width
    size = reference.get_fontsize() * target_px / width
    for t in texts:
        t.set_fontsize(size)


ov = fig.add_axes([0, 0, 1, 1])
ov.set_xlim(0, W)
ov.set_ylim(H, 0)
ov.axis('off')
ov.set_zorder(20)


def ptxt(x, y, s, size=7, color='#333333', ha='left', va='center', **kw):
    return ov.text(x, y, s, fontsize=size, color=color, ha=ha, va=va, **kw)


# titles
for s, x, y in zip(section_labels, section_label_x, section_label_y):
    ptxt(x, y, s, size=27, color='#111111', ha='center', va='baseline', family='Liberation Serif', fontweight='bold')
for s, x, y, l, r, ly in zip(underlined, underlined_x, underlined_y, underlined_l, underlined_r, underlined_line):
    ptxt(x, y, s, size=32.3, color='#222222', ha='center', va='baseline', family='Liberation Serif')
    ov.plot([l, r], [ly, ly], color='#222222', lw=1.6)
for s, x, y in zip(plot_titles, plot_title_x, plot_title_y):
    ptxt(x, y, s, size=30, color='#2a2a2a', ha='center', va='baseline', family='Liberation Serif')

# box plot
ax = pax(77, 117, 396, 403)
box_df = pd.DataFrame({'sample': np.repeat(box_samples, 5), 'group': np.repeat(box_groups, 5),
                       'value': np.column_stack([box_low, box_q1, box_median, box_q3, box_high]).ravel()})
sns.boxplot(data=box_df, x='sample', y='value', hue='group', order=box_samples, dodge=False, palette=box_colors,
            width=0.28, whis=(0, 100), saturation=1, linecolor='#333333', linewidth=1, legend=False, ax=ax,
            whiskerprops={'linestyle': '--'}, medianprops={'color': 'black', 'linewidth': 2.2})
ax.set_xlim(-0.85, 8.85)
ax.set_ylim(-86, 2297)
ax.set_xticks(range(9))
ax.set_xticklabels([s if i % 2 == 0 else '' for i, s in enumerate(box_samples)], fontsize=8, color='#333333')
ax.set_yticks([0, 500, 1000, 1500, 2000])
ax.set_yticklabels(['0', '500', '1000', '1500', '2000'], rotation=90, va='center', fontsize=8, color='#333333')
ax.tick_params(left=False, bottom=True, length=5, width=1, color='#555555', pad=8)
ax.set_xlabel('')
ax.set_ylabel('')
frame(ax)
ptxt(37, 260, 'Value', size=7.5, rotation=90, ha='center')
ptxt(236, 442, 'Samples', size=7.5, ha='center')
ov.add_patch(Rectangle((349, 117), 47, 38, fc='white', ec='#555555', lw=1, zorder=3))
for i, g in enumerate(['IFNg', 'IL4', 'baseline']):
    ov.plot([356], [127 + i * 9.5], 'o', ms=2.5, color=box_colors[g], zorder=4)
    ptxt(363, 127 + i * 9.5, g, size=6.5, zorder=4)

# PCA
ax = pax(518.5, 118, 883, 410)
pca_palette = {'baseline': '#B3A2D8', 'IFNg': '#F5B49C', 'IL4': '#5CC4A2'}
sns.scatterplot(x=pca_pc1, y=pca_pc2, hue=pca_group, palette=pca_palette, s=58, linewidth=0, legend=False, ax=ax, zorder=3)
ax.set_xlim(-26080, 72430)
ax.set_ylim(-2.68e5, 3.24e5)
ax.set_xticks([-25000, 0, 25000, 50000])
ax.set_xticklabels(['-25000', '0', '25000', '50000'], fontsize=4.5, color='#555555')
ax.set_yticks([-2e5, -1e5, 0, 1e5, 2e5, 3e5])
ax.set_yticklabels(['-2e+05', '-1e+05', '0e+00', '1e+05', '2e+05', '3e+05'], fontsize=4.5, color='#555555')
ax.set_xticks([-12500, 12500, 37500, 62500], minor=True)
ax.set_yticks([-2.5e5, -1.5e5, -0.5e5, 0.5e5, 1.5e5, 2.5e5], minor=True)
ax.grid(True, which='both', color='#ECECF2', lw=0.8)
ax.tick_params(left=True, bottom=True, which='major', length=2, width=0.6, pad=1)
frame(ax, '#999999', 1)
ptxt(701, 424, 'PC1: 72.3 %', size=5.5, ha='center')
ptxt(493, 265, 'PC2: 20.4 %', size=5.5, rotation=90, ha='center')
ptxt(893, 247, 'Phenotype', size=6)
for i, g in enumerate(['baseline', 'IFNg', 'IL4']):
    ov.plot([899], [259 + i * 11], 'o', ms=6.5, color=pca_palette[g], mew=0)
    ptxt(908, 259 + i * 11, g, size=5)

# correlation
ax = pax(1027, 162, 1468, 360)
cax = pax(1509, 162, 1518, 282)
sns.heatmap(np.array(corr_values), cmap='Blues_r', vmin=0, vmax=96, linewidths=0.8, linecolor='#AAAAAA', ax=ax, cbar_ax=cax,
            xticklabels=corr_cols, yticklabels=corr_rows)
ax.yaxis.tick_right()
ax.tick_params(left=False, right=False, bottom=False, pad=1)
ax.set_yticklabels(corr_rows, rotation=0, fontsize=7, color='#222222')
ax.set_xticklabels(corr_cols, rotation=-90, fontsize=6.5, color='#333333', ha='center', va='top')
cax.tick_params(labelsize=7, length=0, colors='#333333', pad=3)
cax.set_yticks([0, 20, 40, 60, 80])
ax2 = pax(1027, 119, 1468, 162)
dend(ax2, corr_top_tree)
ax2.set_xlim(0, 9)
ax2.set_ylim(0, 42.5)
ax2 = pax(983, 162, 1027, 360)
dend(ax2, corr_left_tree, top=False)
ax2.set_ylim(9, 0)
ax2.set_xlim(44, 0)

# source of variation pie
ax = pax(16, 571, 354, 909)
ax.pie(pie_values, colors=pie_colors, startangle=90, counterclock=False, radius=1)
ax.set_xlim(-1, 1)
ax.set_ylim(-1, 1)
ptxt(212, 820, 'Unknown\n89.1%', size=9.5, color='#F0F4F8', ha='center', linespacing=1.35)
ptxt(161, 604, 'condition\n5.46%', size=9.5, color='white', ha='center', rotation=-80, rotation_mode='anchor', linespacing=1.1)
ptxt(112, 619, 'Donor\n5.39%', size=9.5, color='white', ha='center', rotation=-68, rotation_mode='anchor', linespacing=1.1)
for i, (name, c) in enumerate(zip(['Unknown', 'condition', 'Donor'], ['#1f77b4', '#ff7f0e', '#2ca02c'])):
    ov.add_patch(Rectangle((341, 574 + i * 19), 12, 12, fc=c, ec='none'))
    ptxt(367, 580 + i * 19, name, size=9.5, color='#444444')

# expression
ax = pax(559, 678, 942, 879)
expr_log2 = expr_baseline + expr_ifng + expr_il4
expr_group = np.repeat(expr_conditions, 3)
expr_df = pd.DataFrame({'condition': expr_group, 'log2': expr_log2, 'x': np.repeat([0, 1, 2], 3) + np.array(expr_jitter)})
sns.boxplot(data=expr_df, x='condition', y='log2', hue='condition', palette=gg_colors, width=0.755, whis=(0, 100),
            saturation=1, linecolor='#333333', linewidth=1, fliersize=0, legend=False, ax=ax)
sns.scatterplot(data=expr_df, x='x', y='log2', color='black', s=50, linewidth=0, legend=False, ax=ax, zorder=5)
ax.set_xlim(-0.6, 2.6)
ax.set_ylim(9.92, 15.67)
ax.set_xticks([0, 1, 2])
ax.set_xticklabels(expr_conditions, fontsize=6.5, color='#555555')
ax.set_yticks([11, 13, 15])
ax.set_yticklabels(['2048', '8192', '32768'], fontsize=6.5, color='#555555')
ax.set_yticks([10, 12, 14], minor=True)
ax.grid(True, which='both', color='#E4E4E4', lw=0.7)
ax.tick_params(left=True, bottom=True, which='major', length=2, width=0.6, pad=1)
ax.set_xlabel('')
ax.set_ylabel('')
frame(ax, '#555555', 1.2)
# significance brackets: from-group, to-group, height, label
for a, b, y, lab, ly in [(0, 1, 14.45, '**', 14.66), (0, 2, 14.93, 'ns', 15.06), (1, 2, 15.42, '**', 15.62)]:
    ax.plot([a, a, b, b], [y - 0.12, y, y, y - 0.12], color='#777777', lw=1)
    ax.text((a + b) / 2, ly, lab, ha='center', va='center', fontsize=7, color='#333333')
ptxt(559, 668, 'Gene name: STAT1', size=8)
ptxt(751, 898, 'Condition', size=7.5, ha='center')
ptxt(524, 778, 'Batch corrected counts', size=6.8, rotation=90, ha='center')
ptxt(957, 754, 'condition', size=7)
for i, (g, c) in enumerate(zip(expr_conditions, gg_colors)):
    ov.add_patch(Rectangle((958, 764 + i * 15.5), 12, 12, fc=c, ec='#777777', lw=0.5))
    ov.plot([964], [770 + i * 15.5], 'o', ms=5.5, color='black', mew=0)
    ptxt(976, 770 + i * 15.5, g, size=6)

# p-value histogram
ax = pax(1123.3, 595.7, 1519.3, 878.3)
sns.histplot(x=pval_mids, weights=pval_counts, bins=20, binrange=(0, 1), color='#E6E6FA', edgecolor='#444444', alpha=1, linewidth=1, ax=ax)
ax.set_xlim(0, 1)
ax.set_ylim(0, 3600)
ax.spines['top'].set_visible(False)
ax.spines['right'].set_visible(False)
ax.spines['left'].set_position(('outward', 15.5))
ax.spines['bottom'].set_position(('outward', 11))
ax.spines['left'].set_bounds(0, 3500)
ax.spines['left'].set_color('#555555')
ax.spines['bottom'].set_color('#555555')
ax.spines['left'].set_visible(True)
ax.spines['bottom'].set_visible(True)
ax.set_xticks([0, 0.2, 0.4, 0.6, 0.8, 1.0])
ax.set_yticks(range(0, 3501, 500))
ax.tick_params(left=True, bottom=True, length=5, width=1, color='#555555', labelsize=9.5, labelcolor='#333333')
plt.setp(ax.get_yticklabels(), rotation=90, va='center', fontsize=9)
ax.set_xlabel('')
ax.set_ylabel('')
ptxt(1321, 931, 'p\u2212values', size=8.5, ha='center')
ptxt(1058, 737, 'Frequency', size=8.5, rotation=90, ha='center')

# MA plot
ax = pax(97.7, 1084.7, 418, 1330)
ax.fill_between(ma_env_x, ma_env_down, ma_env_up, facecolor='#5A5A5A', edgecolor='#9A9A9A', hatch='.....', lw=0, zorder=2)
ax.fill_between(ma_core_x, ma_core_down, ma_core_up, color='#3C3C36', lw=0, zorder=3)
ax.fill_between(ma_band_x, ma_band_up_in, ma_band_up_out, facecolor='none', edgecolor='#E00000', hatch='.....', lw=0, zorder=3)
ax.fill_between(ma_band_x, ma_band_down_out, ma_band_down_in, facecolor='none', edgecolor='#E00000', hatch='.....', lw=0, zorder=3)
red_pts = np.array(ma_red_up + ma_red_down)
gray_pts = np.array(ma_gray_pts)
sns.scatterplot(x=gray_pts[:, 0], y=gray_pts[:, 1], color='#444444', s=5, linewidth=0, ax=ax, zorder=4)
sns.scatterplot(x=red_pts[:, 0], y=red_pts[:, 1], color='#E00000', s=8, linewidth=0, ax=ax, zorder=5)
ax.axhline(0, color='#FF3030', alpha=0.55, lw=2.6, zorder=6)
ax.set_xlim(-0.69, 5.41)
ax.set_ylim(-4.33, 4.32)
ax.set_xticks([0, 2, 4])
ax.set_xticklabels(['1', '100', '10000'], fontsize=5.5, color='#333333')
ax.set_yticks([-4, -2, 0, 2, 4])
ax.set_yticklabels(['-4', '-2', '0', '2', '4'], rotation=90, va='center', fontsize=5.5, color='#333333')
ax.tick_params(left=True, bottom=True, length=3, width=0.7, color='#666666', pad=3)
frame(ax, '#777777', 1.2)
ptxt(258, 1358, 'mean of normalized counts', size=5.5, ha='center', color='#444444')
ptxt(72, 1207, 'log fold change', size=5.5, rotation=90, ha='center', color='#444444')

# module-trait heat map
ax = pax(594, 1108, 965, 1347)
cax = pax(966, 1122, 968, 1333)
module_cmap = LinearSegmentedColormap.from_list('bwr2', [(0, '#1E88FF'), (0.2, '#3FA0FA'), (0.35, '#B6DCF0'), (0.5, '#FFFFFF'),
                                                         (0.65, '#FFC8B6'), (0.8, '#FF8A60'), (0.93, '#FF4A1A'), (1, '#FF2A00')])
module_annot = [[f'{abs(v):g}\n{p}' for v, p in zip(vals, ps)] for vals, ps in zip(module_values, module_pvals)]
sns.heatmap(np.array(module_values), cmap=module_cmap, vmin=-1, vmax=1, annot=np.array(module_annot), fmt='',
            annot_kws={'fontsize': 4.6, 'color': '#333366', 'linespacing': 1.1}, ax=ax, cbar_ax=cax,
            xticklabels=module_cols, yticklabels=False)
ax.set_xticklabels(module_cols, rotation=45, fontsize=8, fontstyle='italic', ha='right', color='#333333')
ax.tick_params(bottom=False, pad=4)
frame(ax, '#666666', 0.8)
cax.set_yticks([-1, -0.5, 0, 0.5, 1])
cax.set_yticklabels(['-1', '-0.5', '0', '0.5', '1'], fontsize=7.5, color='#333333')
cax.tick_params(length=2, pad=1)
side = pax(588, 1108, 594, 1347)
sns.heatmap(np.arange(8).reshape(-1, 1), cmap=ListedColormap(module_side), cbar=False, ax=side, xticklabels=False,
            yticklabels=module_rows)
side.set_yticklabels(module_rows, rotation=0, fontsize=8, color='#333333', family=narrow)
side.tick_params(left=False, pad=1)
side_labels = side.get_yticklabels()
fit_width(side_labels, side_labels[module_rows.index('steelblue')], 46)
ptxt(783, 1082, 'Module-trait relationships', size=8, ha='center', fontweight='bold', color='#111111')

# venn, radius follows the size of each gene set
px_per_unit = 8.47
ax = pax(1100, 1070, 1536, 1384)
ax.set_xlim(1100 / px_per_unit, 1536 / px_per_unit)
ax.set_ylim(1384 / px_per_unit, 1070 / px_per_unit)
ax.axis('off')
r_left = np.sqrt((venn_left_only + venn_both) / np.pi)
r_right = np.sqrt((venn_right_only + venn_both) / np.pi)
cx_left, cy = 1263 / px_per_unit, 1227 / px_per_unit
cx_right = 1446.5 / px_per_unit
ax.add_patch(Circle((cx_left, cy), r_left, fc='#FFB6C1', ec='none', alpha=0.5))
ax.add_patch(Circle((cx_left, cy), r_left, fc='none', ec='#F5B5BF', lw=1))
ax.add_patch(Circle((cx_right, cy), r_right, fc='#90EE90', ec='none', alpha=0.55))
ax.add_patch(Circle((cx_right, cy), r_right, fc='none', ec='#96E59A', lw=1))
ptxt(1243.6, 1227, str(venn_left_only), size=14.5, ha='center', color='#111111')
ptxt(1388, 1227, str(venn_both), size=14.5, ha='center', color='#111111')
ptxt(1467.6, 1227, str(venn_right_only), size=14.5, ha='center', color='#111111')
t1 = ptxt(1121, 1102, 'IFNg  vs  baseline   up regulated genes', size=7, fontstyle='italic', fontweight='bold', color='#222222', family=narrow)
t2 = ptxt(1352, 1103, 'IL4  vs  baseline   up regulated genes', size=7, fontstyle='italic', fontweight='bold', color='#222222', family=narrow)
fit_width([t1, t2], t1, 188)

# volcano
ax = pax(98, 1479, 397, 1778)
ax.fill(volc_right_x, volc_right_y, color='#00BFC4', lw=0, zorder=2)
ax.fill(volc_left_x, volc_left_y, color='#00BFC4', lw=0, zorder=2)
ax.fill(volc_mid_x, volc_mid_y, color='#F8766D', lw=0, zorder=3)
pts = np.array(volc_pts)
sns.scatterplot(x=pts[:, 0], y=pts[:, 1], color='#00BFC4', s=22, linewidth=0, ax=ax, zorder=4)
for name, tx, ty, gx, gy in zip(volc_names, volc_name_x, volc_name_y, volc_gene_x, volc_gene_y):
    ax.annotate(name, xy=(gx, gy), xytext=(tx, ty), ha='center', va='center', fontsize=8.8, color='#222222', family='DejaVu Sans',
                annotation_clip=False, zorder=6,
                arrowprops=dict(arrowstyle='-|>', color='#333333', lw=0.8, mutation_scale=6, shrinkA=5, shrinkB=0))
ax.set_xlim(-10.2, 10.2)
ax.set_ylim(-5.5, 120)
ax.set_xticks([-10, -5, 0, 5, 10])
ax.set_xticklabels(['-10', '-5', '0', '5', '10'], fontsize=8.5, color='#555555', family='DejaVu Sans')
ax.set_yticks([0, 30, 60, 90, 120])
ax.set_yticklabels(['0', '30', '60', '90', '120'], fontsize=8, color='#666666', family='DejaVu Sans')
ax.set_axisbelow(True)
ax.grid(False)
for v, c in [(0, '#D4D4D4'), (30, '#E4E4E4'), (60, '#B4B4B4'), (90, '#BDBDBD'), (120, '#B0B0B0')]:
    ax.axhline(v, color=c, lw=1, zorder=1)
for v, c in [(-10, '#BBBBBB'), (-5, '#E2E2E2'), (0, '#DDDDDD'), (5, '#B4B4B4'), (10, '#D8D8D8')]:
    ax.axvline(v, color=c, lw=1, zorder=1)
ax.tick_params(left=True, bottom=True, length=2, width=0.6, color='#666666', pad=2)
frame(ax, '#A8A8A8', 1.2)
ptxt(70, 1629, '-log10 p-value', size=9.5, rotation=90, ha='center', family='DejaVu Sans')
ptxt(404, 1472, 'Significant', size=9, family='DejaVu Sans')
for i, (name, c) in enumerate(zip(['FALSE', 'TRUE'], ['#F8766D', '#00BFC4'])):
    ov.plot([416], [1509 + i * 20], 'o', ms=3.8, color=c, mew=0)
    ptxt(428, 1509 + i * 20, name, size=7, family='DejaVu Sans')

# FC-FC
ax = pax(588, 1488.7, 896, 1776.7)
for blob in [fc_red_left_blob, fc_red_right_blob]:
    b = np.array(blob)
    ax.fill(b[:, 0], b[:, 1], color='#F8766D', alpha=0.6, lw=0, zorder=2)
r_pts, g_pts, b_pts = np.array(fc_red), np.array(fc_green), np.array(fc_blue)
sns.scatterplot(x=r_pts[:, 0], y=r_pts[:, 1], color='#F8766D', alpha=0.65, s=13, linewidth=0, ax=ax, zorder=3)
sns.scatterplot(x=g_pts[:, 0], y=g_pts[:, 1], color='#00BA38', alpha=0.75, s=13, marker='^', linewidth=0, ax=ax, zorder=3)
sns.scatterplot(x=b_pts[:, 0], y=b_pts[:, 1], color='#619CFF', alpha=0.65, s=12, marker='s', linewidth=0, ax=ax, zorder=3)
ax.axhline(0, color='#666666', lw=1.8, zorder=4)
ax.axvline(0, color='#666666', lw=1.1, zorder=4)
ax.plot(fc_diag, fc_diag, color='black', lw=1, zorder=5)
ax.plot(fc_fit_x, fc_fit_y, color='#2A5FD0', lw=1.8, zorder=6)
ax.set_xlim(-6.1, 7.95)
ax.set_ylim(-5.43, 7.4)
ax.set_xticks([-4, 0, 4])
ax.set_xticklabels(['-4', '0', '4'], fontsize=6, color='#555555')
ax.set_yticks([-5, -2.5, 0, 2.5, 5])
ax.set_yticklabels(['-5.0', '-2.5', '0.0', '2.5', '5.0'], fontsize=6, color='#555555')
ax.set_xticks([-6, -2, 2, 6], minor=True)
ax.set_yticks([-3.75, -1.25, 1.25, 3.75, 6.25], minor=True)
ax.grid(True, which='both', color='#EFEFF5', lw=0.8)
ax.set_axisbelow(True)
ax.tick_params(left=True, bottom=True, which='major', length=2, width=0.6, pad=2)
frame(ax, '#777777', 1.1)
ptxt(588, 1478, 'FC-FC-plot', size=7.5)
ptxt(742, 1795, 'IFNg  vs  baseline All DE', size=6.7, ha='center')
ptxt(565, 1633, 'IL4  vs  baseline All DE', size=6.3, rotation=90, ha='center')
ptxt(910, 1609, 'DE_genes', size=7.5)
for i, (name, c, m) in enumerate(zip(['only IFNg  vs  baseline All DE', 'only IL4  vs  baseline All DE', 'Both'], gg_colors, ['o', '^', 's'])):
    ov.plot([912, 924], [1625 + i * 14.5] * 2, color=c, lw=1.5)
    ov.plot([918], [1625 + i * 14.5], m, ms=3, color=c, mew=0)
    ptxt(929, 1625 + i * 14.5, name, size=6)

# clustered heat map
ax = pax(1126, 1519, 1491, 1763)
sns.heatmap(np.array(hier_matrix), cmap='bwr', vmin=-24, vmax=24, cbar=False, ax=ax, xticklabels=hier_cols,
            yticklabels=False)
ax.set_yticks(np.arange(len(hier_matrix)) + 0.5)
ax.set_yticklabels([])
ax.tick_params(left=True, length=7, width=2.8, color='black', bottom=False, pad=2)
ax.set_xticklabels(hier_cols, rotation=90, fontsize=3.5, color='#4A5AA0')
ann = pax(1126, 1513, 1491, 1518)
hier_group_colors = ['#B3A2D8', '#F5B49C', '#5CC4A2']
sns.heatmap(np.array([hier_col_group]), cmap=ListedColormap(hier_group_colors), cbar=False, ax=ann, xticklabels=False, yticklabels=False)
t = pax(1126, 1488, 1491, 1513)
dend(t, hier_top_tree, lw=0.7, color='#444444')
t.set_xlim(0, 9)
t.set_ylim(0, 24.5)
l = pax(1104, 1519, 1119, 1763)
dend(l, hier_left_tree, top=False, lw=0.6, color='#555555')
l.set_ylim(1, 0)
l.set_xlim(22, 0)
ov.plot([1105, 1525], [1481, 1481], color='#E4E4E4', lw=0.8)
ptxt(1309, 1485.5, 'Heatmap of top 1000 most variable genes', size=4.2, ha='center', fontweight='bold', color='#222222')
ptxt(1493, 1516, 'condition', size=3, fontweight='bold')
cb = pax(1493, 1519, 1499, 1585)
cb.imshow(np.linspace(1, 0, 100).reshape(-1, 1), cmap='bwr', aspect='auto')
cb.axis('off')
for i, (name, c) in enumerate(zip(['baseline', 'IFNg', 'IL4'], ['#B3A2D8', '#F5B49C', '#5CC4A2'])):
    ov.add_patch(Rectangle((1507, 1524 + i * 7.5), 7, 7, fc=c, ec='none'))
    ptxt(1516, 1527.5 + i * 7.5, name, size=3)
ptxt(1507, 1521, 'condition', size=3, fontweight='bold')

# GSEA
ax = pax(156.7, 1992, 473, 2316.7)
sns.barplot(x=gsea_counts, y=gsea_terms, hue=gsea_terms, palette=gsea_colors, legend=False, saturation=1, width=0.9,
            edgecolor='#FFD8DE', linewidth=0.6, ax=ax)
ax.set_xlim(-1.44, 30.44)
ax.set_ylim(9.6, -0.6)
ax.set_xticks([0, 10, 20, 30])
ax.tick_params(axis='x', labelsize=6, labelcolor='#444444', bottom=True, length=2, width=0.6, pad=1)
ax.tick_params(axis='y', left=False, labelleft=False)
ax.grid(True, color='#EFEFF8', lw=0.7)
ax.set_axisbelow(True)
frame(ax, '#555555', 1)
ax.spines['left'].set_color('black')
ax.spines['left'].set_linewidth(1.5)
ax.set_xlabel('')
ax.set_ylabel('')
# term names sit on the row centres of the axis, right aligned at the left spine
gsea_label_y = [ov.transData.inverted().transform(ax.transData.transform((0, i)))[1] for i in range(len(gsea_terms))]
gsea_labels = [ptxt(154.5, y, term, size=6, ha='right', color='#333333', family=narrow) for term, y in zip(gsea_terms, gsea_label_y)]
fit_width(gsea_labels, gsea_labels[1], 130)
cb = pax(482, 2137, 490, 2179)
cb.imshow(np.linspace(0, 1, 100).reshape(-1, 1), cmap=LinearSegmentedColormap.from_list('padj', ['#FF0000', '#0000FF']), aspect='auto')
cb.axis('off')
ptxt(481, 2131, 'p.adjust', size=5, color='#333333')
ptxt(492, 2153, '5e-04', size=3.8, color='#445')
ptxt(492, 2167, '1e-03', size=3.8, color='#33B')

# KEGG
ax = pax(585, 1991, 882, 2309)
kegg_cmap = LinearSegmentedColormap.from_list('kegg', ['#00C853', '#9AD6AC', '#AAAAAA', '#E88A98', '#F00020'])
for x_line in [123, 134]:
    ax.plot([x_line, x_line], [325, 1208], color='#888888', lw=0.8, zorder=1)
ax.plot([317, 317], [338, 1205], color='#999999', lw=0.7, ls=(0, (5, 3)), zorder=1)
ax.plot([378, 378, 100, 100], [490, 620, 620, 650], color='#AAAAAA', lw=0.7, ls=(0, (2, 2)), zorder=1)
for (x1, y1), (x2, y2) in kegg_links:
    ax.plot([x1, x2], [y1, y2], color='#A0A0A0', lw=0.6, zorder=1)
ax.plot([80, 100, 100, 80], [745, 745, 820, 820], color='#BBBBBB', lw=1.2, zorder=1)
ax.plot([72, 108, 108, 72], [722, 722, 845, 845], color='#BBBBBB', lw=1.2, zorder=1)
ax.add_patch(FancyBboxPatch((160, 718), 60, 100, boxstyle='round,pad=0,rounding_size=10', fc='none', ec='#BBBBBB', lw=1, zorder=1))
wx, wy = zip(*kegg_white)
ax.bar(wx, [12] * len(wx), width=15, bottom=np.array(wy) - 6, color='white', edgecolor='#999999', linewidth=0.4, zorder=2)
nx, ny, nv = zip(*kegg_nodes)
ax.bar(nx, [14] * len(nx), width=16, bottom=np.array(ny) - 7, color=kegg_cmap((np.array(nv) + 1) / 2), edgecolor='#777777', linewidth=0.3, zorder=3)
for x, y in kegg_labels:
    ax.add_patch(FancyBboxPatch((x - 18, y - 11), 36, 22, boxstyle='round,pad=0,rounding_size=5', fc='white', ec='#AAAAAA', lw=0.5, zorder=2))
ax.add_patch(Rectangle((52, 302), 90, 16, fc='white', ec='#888888', lw=0.6, zorder=2))
ax.text(97, 310, 'Jak-STAT signaling pathway', fontsize=2.6, ha='center', va='center', color='#333333', zorder=4)
ax.text(44, 1217, 'Data on KEGG graph\nRendered by Pathview', fontsize=2.8, va='center', color='#333333', zorder=4)
ax.set_xlim(40, 515)
ax.set_ylim(1228, 273)
ax.set_xticks([])
ax.set_yticks([])
frame(ax, '#BBBBBB', 1)
cb = pax(837, 1999, 874, 2007)
cb.imshow(np.linspace(0, 1, 100).reshape(1, -1), cmap=kegg_cmap, aspect='auto')
cb.axis('off')
for x, s in [(837, '-4'), (856, '0'), (874, '4')]:
    ptxt(x, 2015, s, size=3.5, ha='center')

# TFBS facets
for name in tf_names:
    x0, y0, x1, y1 = tf_boxes[name]
    ax = pax(x0, y0, x1, y1)
    ax.set_facecolor('#EBEBEB')
    ax.set_axisbelow(True)
    sub = pd.DataFrame({'gene': [name] * 3, 'merged': tissues, 'mean': tf_means[name]})
    sns.barplot(data=sub, x='gene', y='mean', hue='merged', hue_order=tissues, palette=gg_colors, saturation=1, width=0.9, legend=False, ax=ax)
    ax.set_xlim(-0.6, 0.6)
    ax.set_ylim(*tf_limits[name])
    ax.set_yticks(tf_ticks[name])
    ax.grid(True, axis='y', color='white', lw=1.3)
    ax.grid(True, axis='x', color='white', lw=1.3)
    ax.tick_params(left=True, bottom=True, length=2.5, width=0.8, color='#333333', pad=1)
    ax.tick_params(axis='y', labelsize=9, labelcolor='#555555')
    ax.tick_params(axis='x', labelsize=8, labelcolor='#555555', pad=0)
    ax.set_xlabel('')
    ax.set_ylabel('')
    sns.despine(ax=ax, left=True, bottom=True)
    ov.add_patch(Rectangle((x0, y0 - 18), x1 - x0, 18, fc='#D9D9D9', ec='none'))
    ptxt((x0 + x1) / 2, y0 - 9, name, size=8.5, ha='center', color='#222222')
ptxt(997, 2163, 'mean', size=9, rotation=90, ha='center')
ptxt(1463, 2135, 'merged', size=9.5, color='#111111')
legend_texts = []
for i, (name, c) in enumerate(zip(tissues, gg_colors)):
    ov.add_patch(Rectangle((1465, 2146 + i * 18), 16, 16, fc=c, ec='none'))
    legend_texts.append(ptxt(1487, 2154 + i * 18, name, size=8, color='#222222', family=narrow))
fit_width(legend_texts, legend_texts[1], 46)

fig.savefig('out.png', dpi=100, facecolor='white')
